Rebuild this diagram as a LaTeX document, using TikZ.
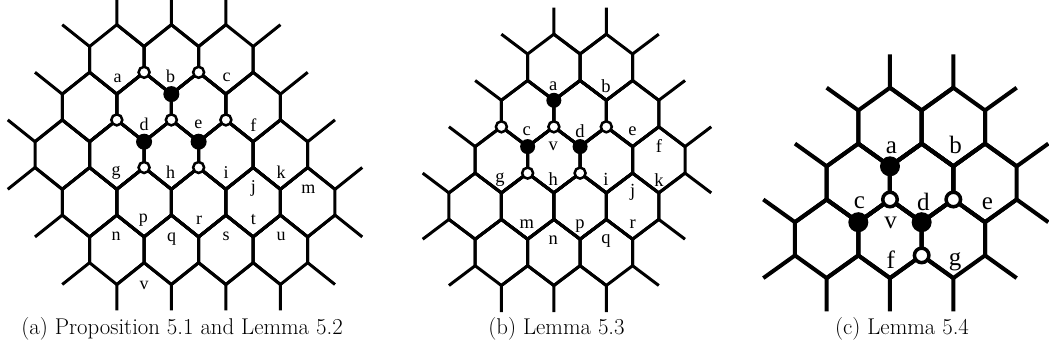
\documentclass[tikz,border=0pt]{standalone}
\usepackage{fontspec}
\newfontfamily\labfont{Liberation Serif}
% #1 x0, #2 column step, #3 T, #4 row period, #5 vertical edge, #6 list of hexagons k/j
\newcommand\hexgrid[6]{%
  \foreach \k/\j in {#6}{%
    \pgfmathsetmacro\hxA{#1+(\k-2)*#2}%
    \pgfmathsetmacro\hxB{#1+(\k-1)*#2}%
    \pgfmathsetmacro\hxC{#1+\k*#2}%
    \pgfmathsetmacro\hxD{#1+(\k+1)*#2}%
    \pgfmathsetmacro\hxE{#1+(\k+2)*#2}%
    \pgfmathsetmacro\hyA{#3+(\j-1)*#4}%
    \pgfmathsetmacro\hyB{\hyA+#5}%
    \pgfmathsetmacro\hyC{#3+\j*#4}%
    \pgfmathsetmacro\hyD{\hyC+#5}%
    \pgfmathsetmacro\hyE{#3+(\j+1)*#4}%
    \pgfmathsetmacro\hyF{\hyE+#5}%
    \coordinate (T) at (\hxC,\hyB);
    \coordinate (UR) at (\hxD,\hyC);
    \coordinate (LR) at (\hxD,\hyD);
    \coordinate (B) at (\hxC,\hyE);
    \coordinate (LL) at (\hxB,\hyD);
    \coordinate (UL) at (\hxB,\hyC);
    \coordinate (sT) at (\hxC,\hyA);
    \coordinate (sUR) at (\hxE,\hyB);
    \coordinate (sLR) at (\hxE,\hyE);
    \coordinate (sB) at (\hxC,\hyF);
    \coordinate (sLL) at (\hxA,\hyE);
    \coordinate (sUL) at (\hxA,\hyB);
    \draw[lat] (T)--(UR)--(LR)--(B)--(LL)--(UL)--cycle;
    \draw[lat] (T)--(sT) (UR)--(sUR) (LR)--(sLR) (B)--(sB) (LL)--(sLL) (UL)--(sUL);
  }%
}
\begin{document}
\begin{tikzpicture}[x=1pt,y=-1pt,
  lat/.style={line width=3pt,line join=miter},
  opn/.style={circle,draw,fill=white,line width=2.5pt,inner sep=0pt,minimum size=11pt},
  fil/.style={circle,fill=black,inner sep=0pt,minimum size=16pt},
  lab/.style={inner sep=0pt,font=\labfont\fontsize{18}{20}\selectfont},
  captext/.style={inner sep=0pt,anchor=base,font=\fontsize{22.8}{26}\selectfont}]
\useasboundingbox (0,0) rectangle (1049,353);

% ---------------- panel (a)
\begin{scope}
\hexgrid{35}{27.27}{-1.1}{47.6}{25.8}{3/1,5/1,7/1,2/2,4/2,6/2,8/2,1/3,3/3,5/3,7/3,9/3,2/4,4/4,6/4,8/4,10/4,3/5,5/5,7/5,9/5}
\node[opn] (A-o1) at (144.08,72.3) {};
\node[opn] (A-o2) at (198.62,72.3) {};
\node[opn] (A-o3) at (116.81,119.9) {};
\node[opn] (A-o4) at (171.35,119.9) {};
\node[opn] (A-o5) at (225.89,119.9) {};
\node[opn] (A-o6) at (144.08,167.5) {};
\node[opn] (A-o7) at (198.62,167.5) {};
\node[fil] (A-f1) at (171.35,94.1) {};
\node[fil] (A-f2) at (144.08,141.7) {};
\node[fil] (A-f3) at (198.62,141.7) {};
\node[lab] (A-a) at (117.5,78) {a};
\node[lab] (A-b) at (170.5,76.7) {b};
\node[lab] (A-c) at (226.7,77.8) {c};
\node[lab] (A-d) at (144,124) {d};
\node[lab] (A-e) at (198.3,124) {e};
\node[lab] (A-f) at (253.3,125) {f};
\node[lab] (A-g) at (116,172.7) {g};
\node[lab] (A-h) at (170.7,172.7) {h};
\node[lab] (A-i) at (226,172.7) {i};
\node[lab] (A-j) at (253.3,188.3) {j};
\node[lab] (A-k) at (281,172.7) {k};
\node[lab] (A-m) at (308.3,189.3) {m};
\node[lab] (A-n) at (116,236) {n};
\node[lab] (A-p) at (143.3,220) {p};
\node[lab] (A-q) at (171.7,239.3) {q};
\node[lab] (A-r) at (199,220) {r};
\node[lab] (A-s) at (226,236.7) {s};
\node[lab] (A-t) at (253.3,220) {t};
\node[lab] (A-u) at (281,236) {u};
\node[lab] (A-v) at (144,285) {v};
\node[captext] (capA) at (182,334) {(a) Proposition 5.1 and Lemma 5.2};
\end{scope}

% ---------------- panel (b)
\begin{scope}[fil/.style={circle,fill=black,inner sep=0pt,minimum size=15pt},
  lab/.style={inner sep=0pt,font=\labfont\fontsize{18.5}{20}\selectfont}]
\hexgrid{422.7}{26.23}{7.7}{46.3}{26.5}{5/1,7/1,4/2,6/2,8/2,3/3,5/3,7/3,9/3,2/4,4/4,6/4,8/4,3/5,5/5,7/5}
\node[opn] (B-o1) at (501.39,126.8) {};
\node[opn] (B-o2) at (553.85,126.8) {};
\node[opn] (B-o3) at (606.31,126.8) {};
\node[opn] (B-o4) at (527.62,173.1) {};
\node[opn] (B-o5) at (580.08,173.1) {};
\node[fil] (B-f1) at (553.85,100.3) {};
\node[fil] (B-f2) at (527.62,146.6) {};
\node[fil] (B-f3) at (580.08,146.6) {};
\node[lab] (B-a) at (553.3,86) {a};
\node[lab] (B-b) at (606,86) {b};
\node[lab] (B-c) at (526.7,131.7) {c};
\node[lab] (B-d) at (580,130.7) {d};
\node[lab] (B-e) at (632.5,131.7) {e};
\node[lab] (B-f) at (659,146) {f};
\node[lab] (B-v) at (553.3,146.7) {v};
\node[lab] (B-g) at (500,180) {g};
\node[lab] (B-h) at (553.3,179) {h};
\node[lab] (B-i) at (606,179) {i};
\node[lab] (B-j) at (632.7,192.5) {j};
\node[lab] (B-k) at (659,180) {k};
\node[lab] (B-m) at (526.7,224) {m};
\node[lab] (B-n) at (553.3,240.3) {n};
\node[lab] (B-p) at (580,226) {p};
\node[lab] (B-q) at (606,240.8) {q};
\node[lab] (B-r) at (632.7,224) {r};
\node[captext] (capB) at (556.5,334) {(b) Lemma 5.3};
\end{scope}

% ---------------- panel (c)
\begin{scope}[lat/.style={line width=4pt,line join=miter},
  opn/.style={circle,draw,fill=white,line width=3.5pt,inner sep=0pt,minimum size=14.5pt},
  fil/.style={circle,fill=black,inner sep=0pt,minimum size=20pt},
  lab/.style={inner sep=0pt,font=\labfont\fontsize{25}{27}\selectfont}]
\hexgrid{763.3}{31.67}{54.5}{55.9}{33.2}{4/1,6/1,3/2,5/2,7/2,2/3,4/3,6/3}
\node[opn] (C-o1) at (889.98,199.5) {};
\node[opn] (C-o2) at (953.32,199.5) {};
\node[opn] (C-o3) at (921.65,255.4) {};
\node[fil] (C-f1) at (889.98,166.3) {};
\node[fil] (C-f2) at (858.31,222.2) {};
\node[fil] (C-f3) at (921.65,222.2) {};
\node[lab] (C-a) at (891.5,147.5) {a};
\node[lab] (C-b) at (955.5,145) {b};
\node[lab] (C-c) at (859.3,202.7) {c};
\node[lab] (C-d) at (923.3,201.7) {d};
\node[lab] (C-e) at (987.3,203.3) {e};
\node[lab] (C-v) at (890.7,222.7) {v};
\node[lab] (C-f) at (890.7,260) {f};
\node[lab] (C-g) at (955,261.7) {g};
\node[captext] (capC) at (902,334) {(c) Lemma 5.4};
\end{scope}
\end{tikzpicture}
\end{document}
